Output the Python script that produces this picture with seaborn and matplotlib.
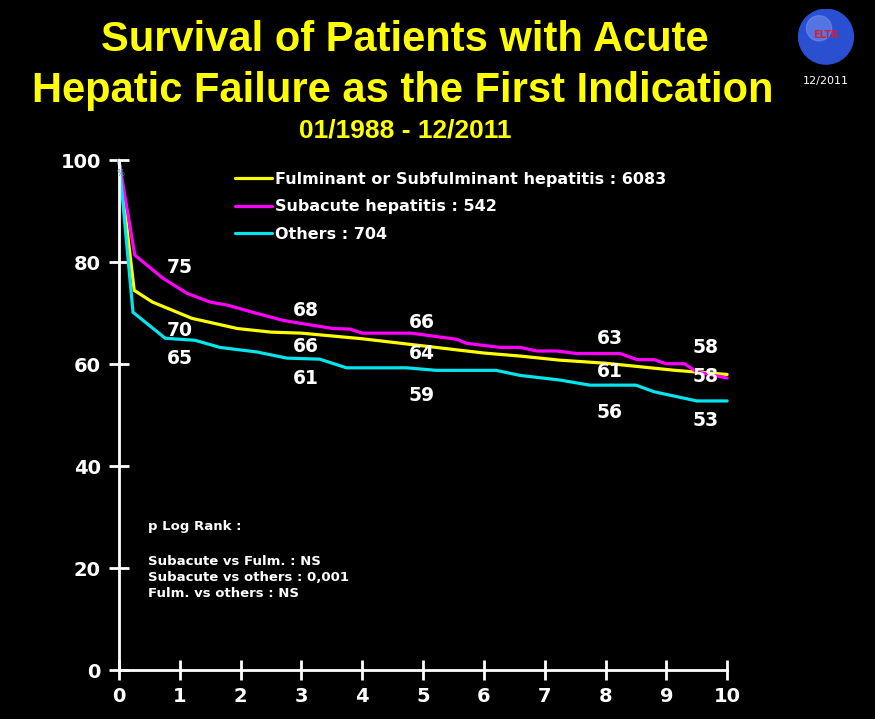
import pandas as pd
import seaborn as sns
import matplotlib.pyplot as plt
from matplotlib.patches import Circle

# survival curves (years, % alive)
t_fulm = [0, 0.25, 0.55, 1.2, 1.95, 2.5, 3.0, 4.0, 5.0, 6.0, 6.6, 7.25, 8.0, 9.15, 10.0]
v_fulm = [100, 74.5, 72.2, 69.0, 67.0, 66.3, 66.1, 65.0, 63.6, 62.2, 61.6, 60.8, 60.2, 58.8, 58.0]

t_sub = [0, 0.26, 0.72, 1.12, 1.5, 1.78, 2.2, 2.7, 3.0, 3.52, 3.8, 4.0, 4.8, 5.55, 5.72,
         6.27, 6.6, 6.87, 7.2, 7.53, 8.24, 8.52, 8.8, 9.0, 9.3, 9.5, 10.0]
v_sub = [100, 81.4, 76.9, 73.9, 72.2, 71.6, 70.2, 68.6, 68.0, 67.0, 66.9, 66.1, 66.1, 64.9, 64.1,
         63.3, 63.3, 62.6, 62.6, 62.1, 62.1, 60.9, 60.9, 60.1, 60.1, 58.5, 57.3]

t_oth = [0, 0.23, 0.76, 1.25, 1.66, 2.27, 2.76, 3.3, 3.74, 4.73, 5.22, 6.2, 6.6, 7.25, 7.74,
         8.5, 8.8, 9.5, 10.0]
v_oth = [100, 70.2, 65.1, 64.7, 63.3, 62.4, 61.2, 61.0, 59.3, 59.3, 58.8, 58.8, 57.8, 56.9, 55.9,
         55.9, 54.6, 52.8, 52.8]

groups = ["Fulminant or Subfulminant hepatitis : 6083",
          "Subacute hepatitis : 542",
          "Others : 704"]
colors = ["#ffff00", "#ff00ff", "#00e5ee"]

# survival figures written next to the curves
label_sub = ["75", "68", "66", "63", "58"]
label_fulm = ["70", "66", "64", "61", "58"]
label_oth = ["65", "61", "59", "56", "53"]

df = pd.concat([
    pd.DataFrame({"year": t_fulm, "survival": v_fulm, "group": groups[0]}),
    pd.DataFrame({"year": t_sub, "survival": v_sub, "group": groups[1]}),
    pd.DataFrame({"year": t_oth, "survival": v_oth, "group": groups[2]}),
])

sns.set_theme(style="white")
plt.rcParams["font.family"] = ["DejaVu Sans"]
plt.rcParams["figure.facecolor"] = "black"
plt.rcParams["axes.facecolor"] = "black"

fig = plt.figure(figsize=(8.75, 7.19), dpi=100)
ax = fig.add_axes([0.136, 0.068, 0.695, 0.709])

sns.lineplot(data=df, x="year", y="survival", hue="group", hue_order=groups,
             palette=colors, estimator=None, sort=False, linewidth=2.3, ax=ax)

ax.set_xlim(0, 10)
ax.set_ylim(0, 100)
ax.set_xticks(range(0, 11))
ax.set_yticks(range(0, 101, 20))
ax.set_xlabel("")
ax.set_ylabel("")
for side in ["top", "right"]:
    ax.spines[side].set_visible(False)
for side in ["left", "bottom"]:
    ax.spines[side].set_color("white")
    ax.spines[side].set_linewidth(2)
ax.tick_params(bottom=True, left=True, colors="white", direction="inout", length=14,
               width=2, labelsize=14)
ax.tick_params(axis="y", pad=6)
ax.tick_params(axis="x", pad=5)
for lab in ax.get_xticklabels() + ax.get_yticklabels():
    lab.set_fontweight("bold")
for line in ax.get_lines():
    line.set_clip_on(False)

ax.legend(frameon=False, loc="upper left", bbox_to_anchor=(0.18, 0.99), labelcolor="white",
          prop={"weight": "bold", "size": 11.5}, handlelength=2.3, handletextpad=0.2,
          labelspacing=0.78, borderaxespad=0)

# value labels
x_off = [1.0, 3.08, 4.98, 8.07, 9.65]
y_sub = [79.0, 70.6, 68.2, 65.1, 63.3]
y_fulm = [66.7, 63.5, 62.2, 58.6, 57.5]
y_oth = [61.2, 57.3, 53.9, 50.6, 49.0]
for labs, ys in [(label_sub, y_sub), (label_fulm, y_fulm), (label_oth, y_oth)]:
    for x, y, s in zip(x_off, ys, labs):
        ax.text(x, y, s, color="white", fontsize=13.5, fontweight="bold", ha="center", va="center")

ax.text(0.02, 97.5, "%", color="#6a8a9a", fontsize=6, ha="center", va="center")

ax.text(0.48, 28.2, "p Log Rank :", color="white", fontsize=9.5, fontweight="bold", va="center")
ax.text(0.48, 18.2, "Subacute vs Fulm. : NS\nSubacute vs others : 0,001\nFulm. vs others : NS",
        color="white", fontsize=9.5, fontweight="bold", va="center", linespacing=1.3)

# title block
tfont = ["Liberation Sans Narrow", "Liberation Sans", "DejaVu Sans"]
fig.text(0.463, 0.944, "Survival of Patients with Acute", color="#ffff00", fontsize=30,
         fontweight="bold", family=tfont, ha="center", va="center")
fig.text(0.46, 0.873, "Hepatic Failure as the First Indication", color="#ffff00", fontsize=30,
         fontweight="bold", family=tfont, ha="center", va="center")
fig.text(0.463, 0.818, "01/1988 - 12/2011", color="#ffff00", fontsize=19,
         fontweight="bold", family=tfont, ha="center", va="center")

# registry logo, top right
lax = fig.add_axes([0.912, 0.91, 0.064, 0.078])
lax.set_xlim(-1, 1)
lax.set_ylim(-1, 1)
lax.set_aspect("equal")
lax.axis("off")
lax.add_patch(Circle((0, 0), 0.98, color="#2a4fd0"))
lax.add_patch(Circle((-0.25, 0.3), 0.45, color="#6f8ff0", alpha=0.6))
lax.text(0, 0.05, "ELTR", color="#d0203a", fontsize=7, fontweight="bold", ha="center", va="center")
fig.text(0.944, 0.888, "12/2011", color="white", fontsize=8, ha="center", va="center")

fig.savefig("out.png", dpi=100, facecolor="black")
